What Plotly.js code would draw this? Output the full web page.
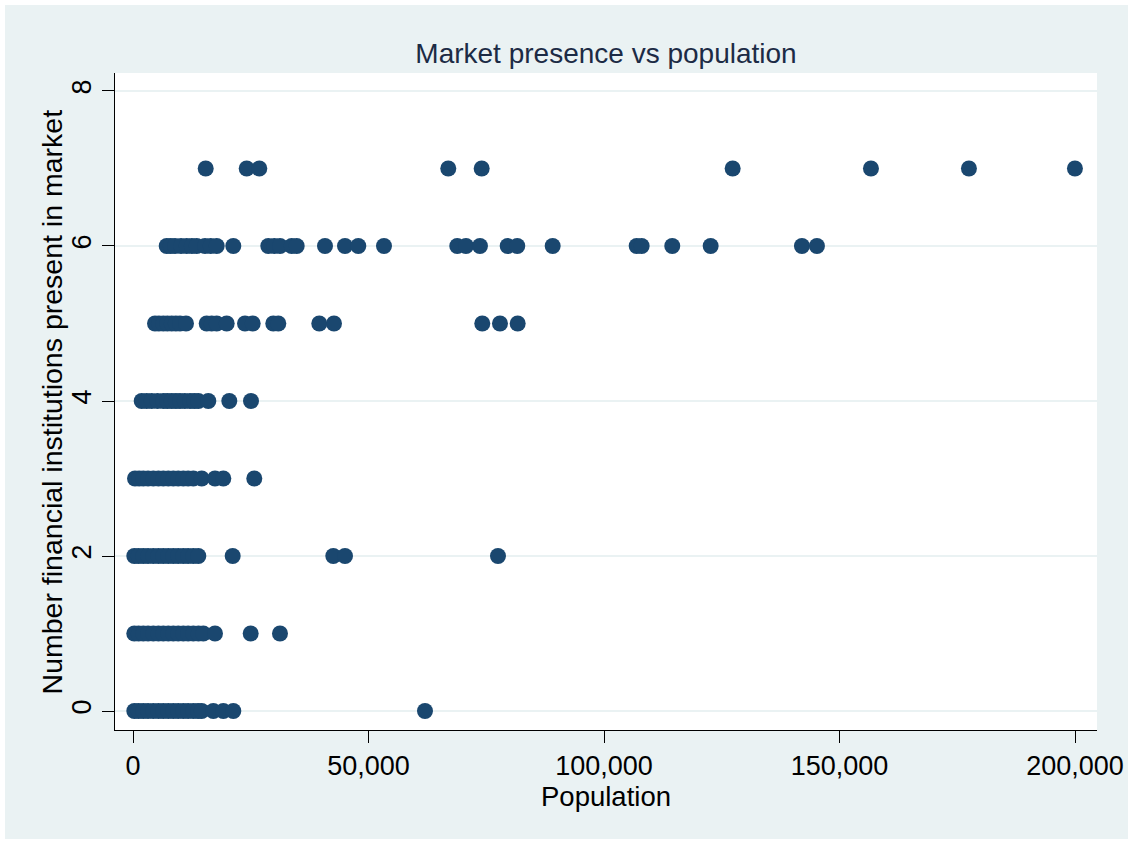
<!DOCTYPE html>
<html>
<head>
<meta charset="utf-8">
<script src="https://cdn.plot.ly/plotly-3.0.1.min.js"></script>
<style>
html,body{margin:0;padding:0;background:#ffffff;}
#chart{position:absolute;left:5px;top:5px;width:1123px;height:834px;}
</style>
</head>
<body>
<div id="chart"></div>
<script>
// Population of markets, grouped by number of financial institutions present
const pop0 = [276, 1200, 2187, 3200, 4310, 5400, 6433, 7500, 8556, 9600, 10679, 11700, 12802, 13800, 14585, 17048, 19171, 21294, 61992];
const pop1 = [276, 1200, 2187, 3200, 4310, 5400, 6433, 7500, 8556, 9600, 10679, 11700, 12802, 13900, 14925, 17409, 24988, 31208];
const pop2 = [276, 1200, 2187, 3200, 4310, 5400, 6433, 7500, 8556, 9600, 10679, 11700, 12802, 13863, 21166, 42524, 45008, 77490];
const pop3 = [425, 1300, 2187, 3200, 4310, 5400, 6433, 7500, 8556, 9600, 10679, 11700, 12802, 14585, 17409, 19171, 25752];
const pop4 = [1847, 2900, 3970, 5200, 6433, 7300, 8216, 9100, 9978, 11000, 12101, 13000, 13863, 15986, 20444, 25051];
const pop5 = [4671, 5500, 6433, 7300, 8216, 9100, 9978, 11252, 15646, 16700, 17770, 19892, 23778, 25412, 29786, 30848, 39552, 42672, 74157, 77914, 81672];
const pop6 = [7155, 8000, 8917, 10200, 11400, 12500, 13524, 15286, 16500, 17770, 21294, 28724, 30000, 31208, 33692, 34753, 40762, 45008, 47831, 53286, 68848, 70695, 73667, 79548, 81586, 89102, 106935, 107996, 114492, 122645, 142026, 145211];
const pop7 = [15434, 24139, 26813, 66938, 74030, 127316, 156677, 177483, 199987];

const groups = [pop0, pop1, pop2, pop3, pop4, pop5, pop6, pop7];
const xVals = [];
const yVals = [];
groups.forEach((arr, n) => { arr.forEach(p => { xVals.push(p); yVals.push(n); }); });

const xTicks = [0, 50000, 100000, 150000, 200000];
const xTickText = ['0', '50,000', '100,000', '150,000', '200,000'];
const yTicks = [0, 2, 4, 6, 8];

const font = 'Liberation Sans, Arial, sans-serif';

Plotly.newPlot('chart', [{
  type: 'scatter',
  mode: 'markers',
  x: xVals,
  y: yVals,
  marker: {color: '#1a476f', size: 16, line: {width: 0}},
  hoverinfo: 'x+y'
}], {
  width: 1123,
  height: 834,
  paper_bgcolor: '#eaf2f3',
  plot_bgcolor: '#ffffff',
  margin: {l: 110, r: 31, t: 68, b: 109, pad: 0},
  showlegend: false,
  title: {text: 'Market presence vs population', x: 0.5, xref: 'paper', xanchor: 'center', y: 0.9424, yanchor: 'middle',
          font: {family: font, size: 28, color: '#1c2b45'}},
  xaxis: {
    range: [-3822, 204671],
    tickvals: xTicks, ticktext: xTickText,
    ticks: 'outside', ticklen: 12, tickwidth: 1, tickcolor: '#000',
    showline: true, linecolor: '#000', linewidth: 1,
    showgrid: false, zeroline: false,
    tickfont: {family: font, size: 27, color: '#000'},
    title: {text: 'Population', font: {family: font, size: 27.5, color: '#000'}, standoff: 0},
    automargin: false
  },
  yaxis: {
    range: [-0.245, 8.232],
    tickvals: yTicks,
    tickangle: -90,
    ticks: 'outside', ticklen: 12, tickwidth: 1, tickcolor: '#000',
    showline: true, linecolor: '#000', linewidth: 1,
    showgrid: true, gridcolor: '#eaf2f3', gridwidth: 2,
    zeroline: false,
    tickfont: {family: font, size: 27, color: '#000'},
    automargin: false
  },
  annotations: [{
    text: 'Number financial institutions present in market',
    xref: 'paper', yref: 'paper', x: -0.0642, y: 0.5,
    xanchor: 'center', yanchor: 'middle', textangle: -90, showarrow: false,
    font: {family: font, size: 28.5, color: '#000'}
  }]
}, {displayModeBar: false, staticPlot: true});
</script>
</body>
</html>
